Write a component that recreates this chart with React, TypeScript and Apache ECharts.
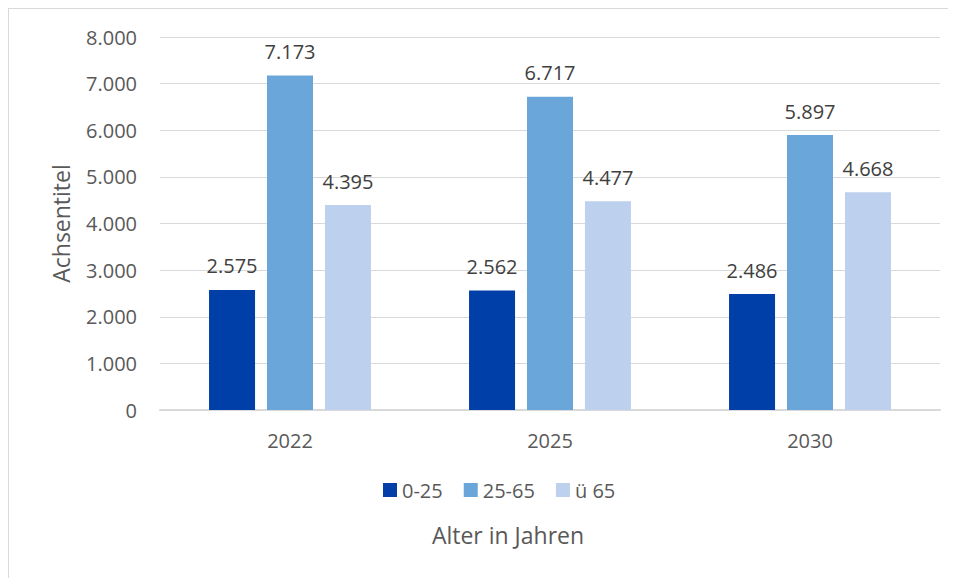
import React, { useEffect, useRef } from "react";
import * as echarts from "echarts";

const categories = ["2022", "2025", "2030"];
const seriesNames = ["0-25", "25-65", "ü 65"];
const values0to25 = [2575, 2562, 2486];
const values25to65 = [7173, 6717, 5897];
const valuesOver65 = [4395, 4477, 4668];
const colors = ["#003FA7", "#6BA6DA", "#BDD0EE"];
const yAxisTitle = "Achsentitel";
const xAxisTitle = "Alter in Jahren";

const FONT = "'Open Sans', sans-serif";
const fmt = (v: number) => String(v).replace(/\B(?=(\d{3})+(?!\d))/g, ".");

export default function App() {
  const ref = useRef<HTMLDivElement>(null);
  useEffect(() => {
    if (!ref.current) return;
    const chart = echarts.init(ref.current, null, { renderer: "svg" });
    const data = [values0to25, values25to65, valuesOver65];
    chart.setOption({
      animation: false,
      textStyle: { fontFamily: FONT },
      grid: { left: 151, top: 28, width: 780, height: 373 },
      legend: {
        left: 369,
        top: 466,
        itemWidth: 14,
        itemHeight: 14,
        itemGap: 21,
        icon: "rect",
        textStyle: { fontSize: 20, color: "#595959", fontFamily: FONT },
        data: seriesNames,
      },
      xAxis: {
        type: "category",
        data: categories,
        axisLine: { lineStyle: { color: "#d9d9d9", width: 2 } },
        axisTick: { show: false },
        axisLabel: { fontSize: 20, color: "#595959", margin: 20, fontFamily: FONT },
      },
      yAxis: {
        type: "value",
        min: 0,
        max: 8000,
        interval: 1000,
        name: yAxisTitle,
        nameLocation: "middle",
        nameGap: 88,
        nameTextStyle: { fontSize: 23, color: "#595959", fontFamily: FONT },
        axisLine: { show: false },
        axisTick: { show: false },
        splitLine: { lineStyle: { color: "#d9d9d9", width: 1 } },
        axisLabel: {
          fontSize: 20,
          color: "#595959",
          margin: 23,
          fontFamily: FONT,
          formatter: (v: number) => fmt(v),
        },
      },
      graphic: [
        {
          type: "text",
          x: 499,
          y: 526,
          style: {
            text: xAxisTitle,
            fontSize: 23,
            fill: "#595959",
            fontFamily: FONT,
            textAlign: "center",
            textVerticalAlign: "middle",
          },
        },
      ],
      series: seriesNames.map((name, i) => ({
        name,
        type: "bar",
        data: data[i],
        barWidth: 46,
        barGap: "26%",
        itemStyle: { color: colors[i] },
        label: {
          show: true,
          position: "top",
          distance: 14,
          fontSize: 20,
          color: "#404040",
          fontFamily: FONT,
          formatter: (p: any) => fmt(p.value),
        },
      })),
    });
    return () => chart.dispose();
  }, []);
  return (
    <div
      style={{
        width: 948,
        height: 570,
        borderTop: "1px solid #d9d9d9",
        borderLeft: "1px solid #d9d9d9",
        boxSizing: "border-box",
        overflow: "hidden",
      }}
    >
      <div ref={ref} style={{ width: 947, height: 569 }} />
    </div>
  );
}
